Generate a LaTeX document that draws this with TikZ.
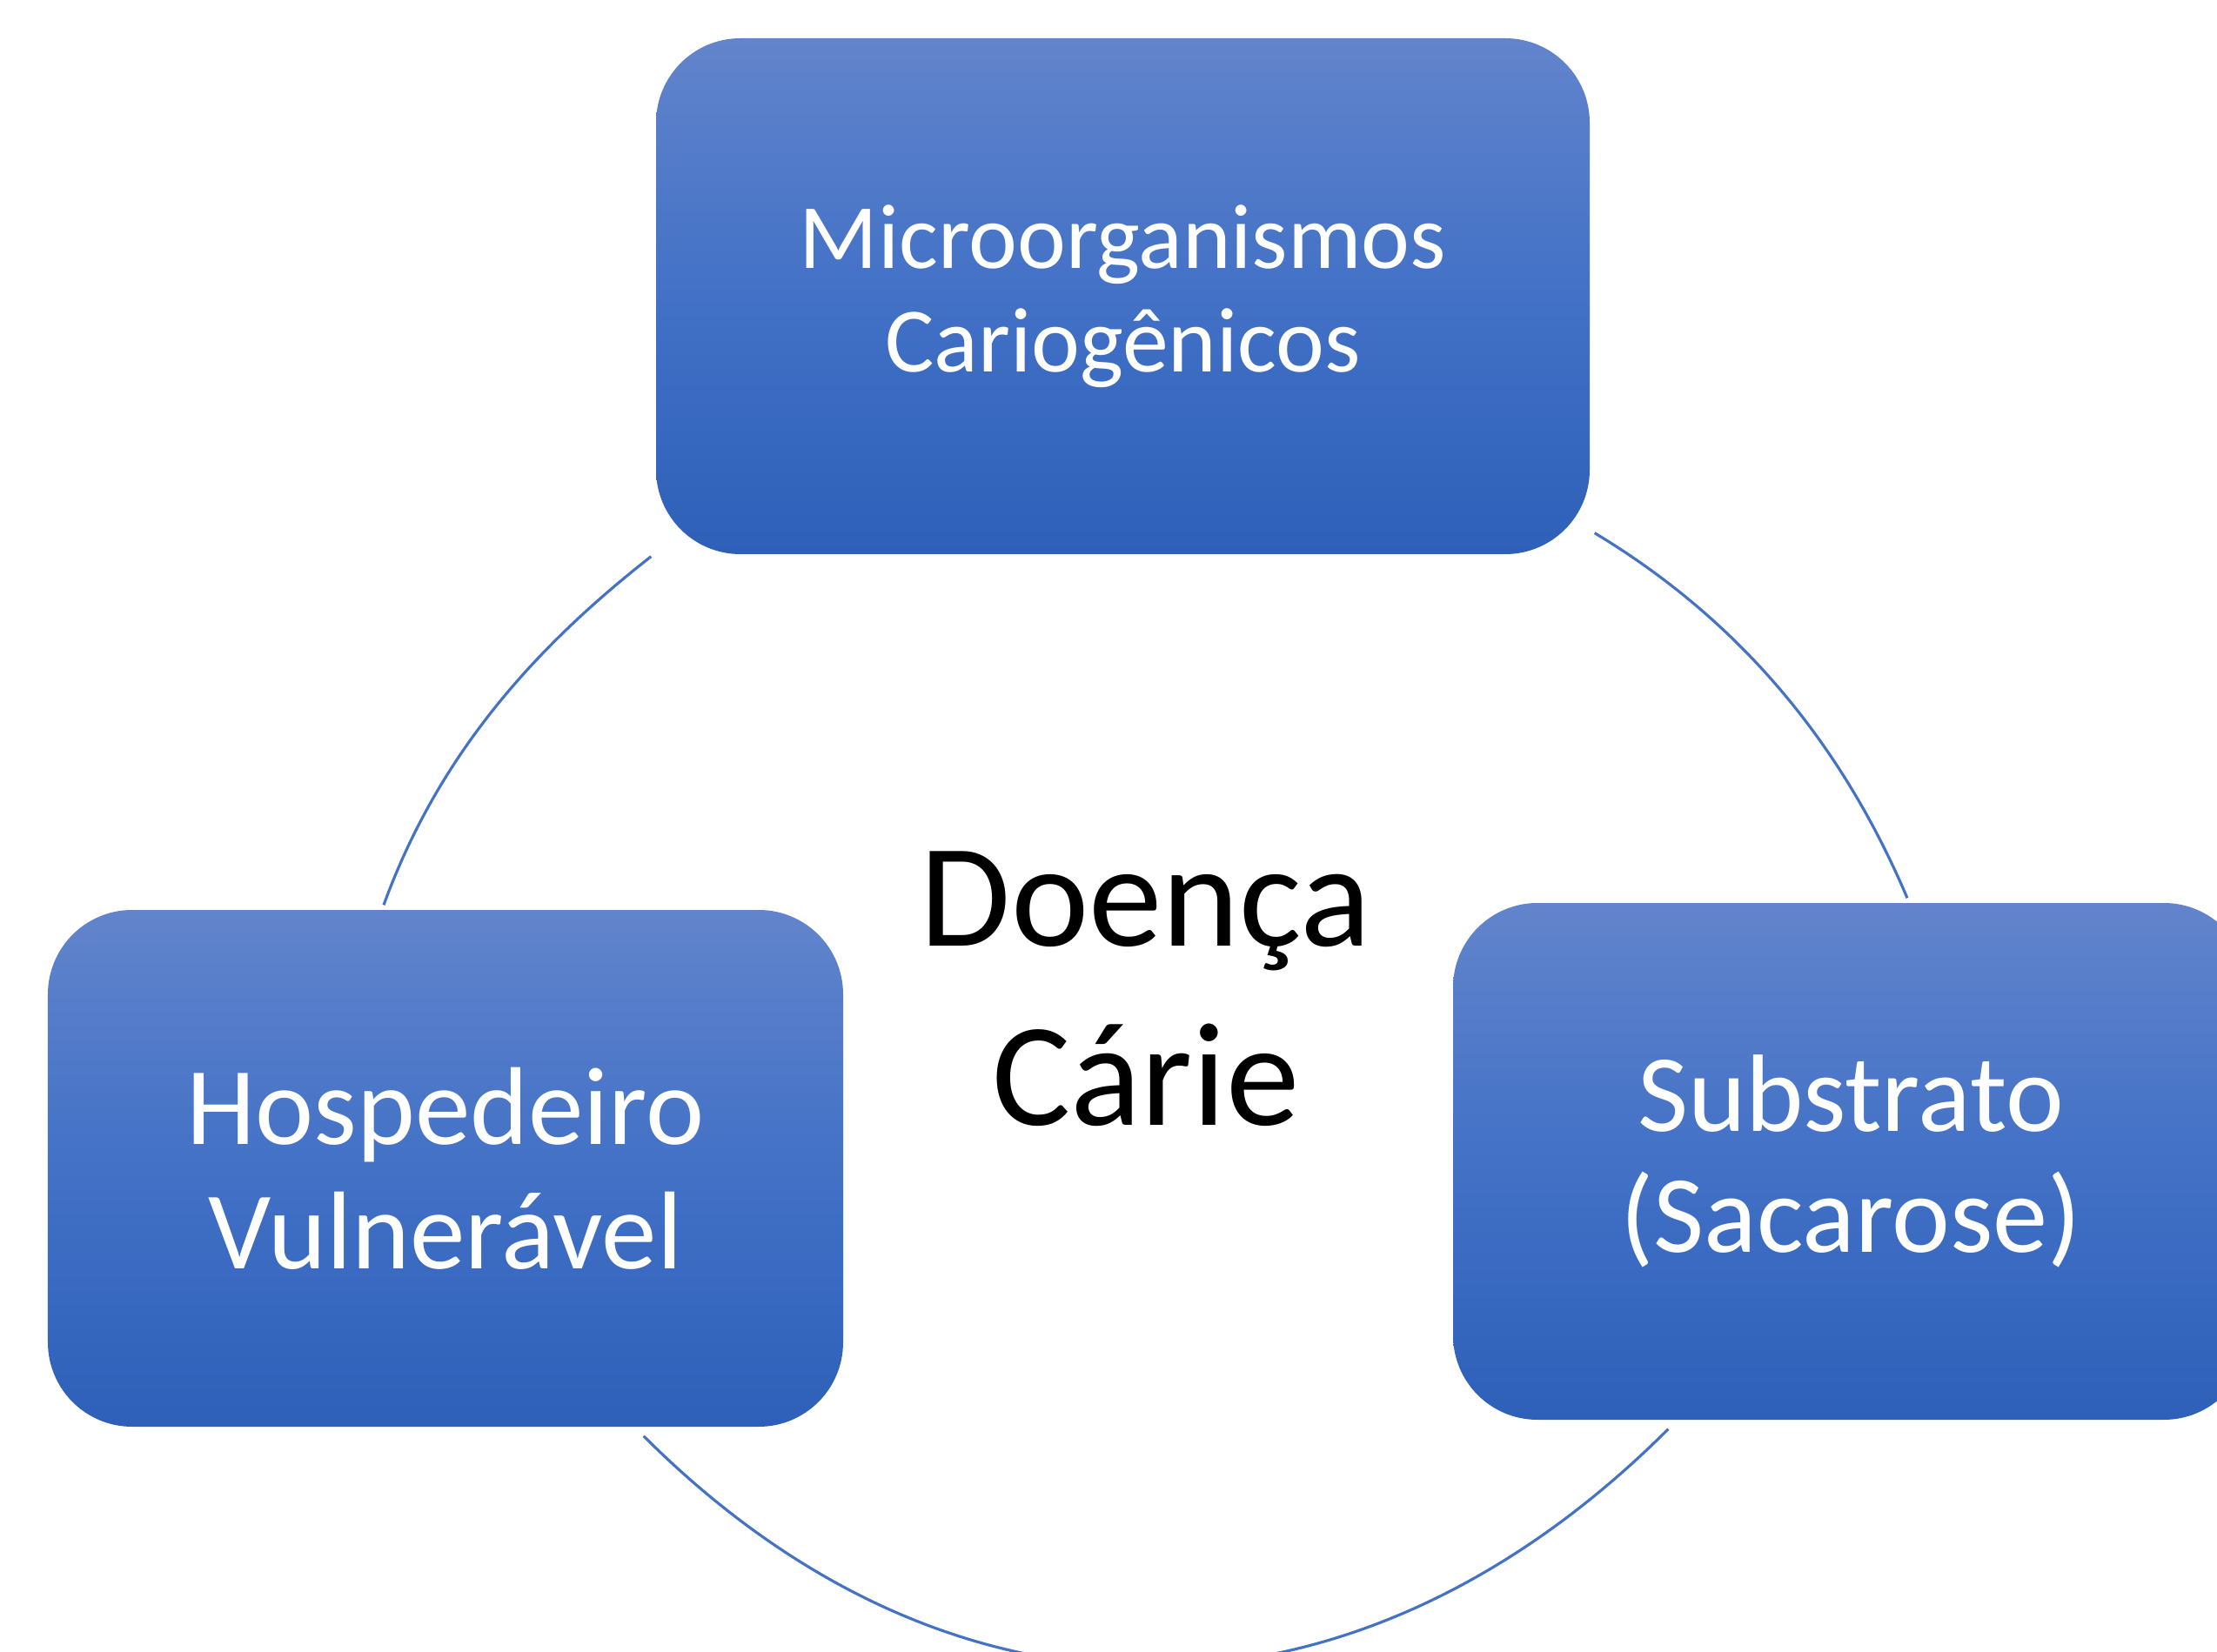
\documentclass[tikz,border=0pt]{standalone}
\usepackage{fontspec}
\setmainfont{Carlito}
\usepackage{tikz}
\definecolor{boxtop}{RGB}{98,132,204}
\definecolor{boxmid}{RGB}{66,113,198}
\definecolor{boxbot}{RGB}{46,96,185}
\definecolor{arcblue}{RGB}{68,114,196}

\begin{document}
\begin{tikzpicture}[
    factor/.style={rectangle, rounded corners=0.97cm, top color=boxtop, bottom color=boxbot, middle color=boxmid, text=white, align=center, inner sep=0pt},
    ring/.style={draw=arcblue, line width=0.9pt}
]
    \useasboundingbox (0,0) rectangle (25.48,18.98);
    \clip (0,0) rectangle (25.48,18.98);

    \node[factor, minimum width=10.73cm, minimum height=5.93cm, font=\fontsize{30.1}{33.7}\selectfont] (micro) at (12.905,15.575) {Microorganismos\\Cariogênicos};
    \node[factor, minimum width=9.14cm, minimum height=5.94cm, font=\fontsize{36.2}{40.7}\selectfont] (hosp) at (5.12,5.55) {Hospedeiro\\Vulnerável};
    \node[factor, minimum width=9.14cm, minimum height=5.94cm, font=\fontsize{36}{39.5}\selectfont] (subst) at (21.27,5.63) {Substrato\\(Sacarose)};

    \node[align=center, inner sep=0pt, font=\fontsize{48.2}{58.6}\selectfont] (doenca) at (13.17,7.61) {Doença\\Cárie};

    \draw[ring] ([xshift=-0.05cm,yshift=-0.02cm]micro.south west) to[out=218,in=70,looseness=0.9] ([xshift=-0.71cm,yshift=0.05cm]hosp.north);
    \draw[ring] ([xshift=0.05cm,yshift=0.25cm]micro.south east) to[out=-31,in=113,looseness=0.9] ([xshift=0.65cm,yshift=0.05cm]subst.north);
    \draw[ring] ([xshift=-2.30cm,yshift=-0.10cm]hosp.south east) to[out=-45,in=225,looseness=1.1] ([xshift=2.48cm,yshift=-0.10cm]subst.south west);
\end{tikzpicture}
\end{document}
